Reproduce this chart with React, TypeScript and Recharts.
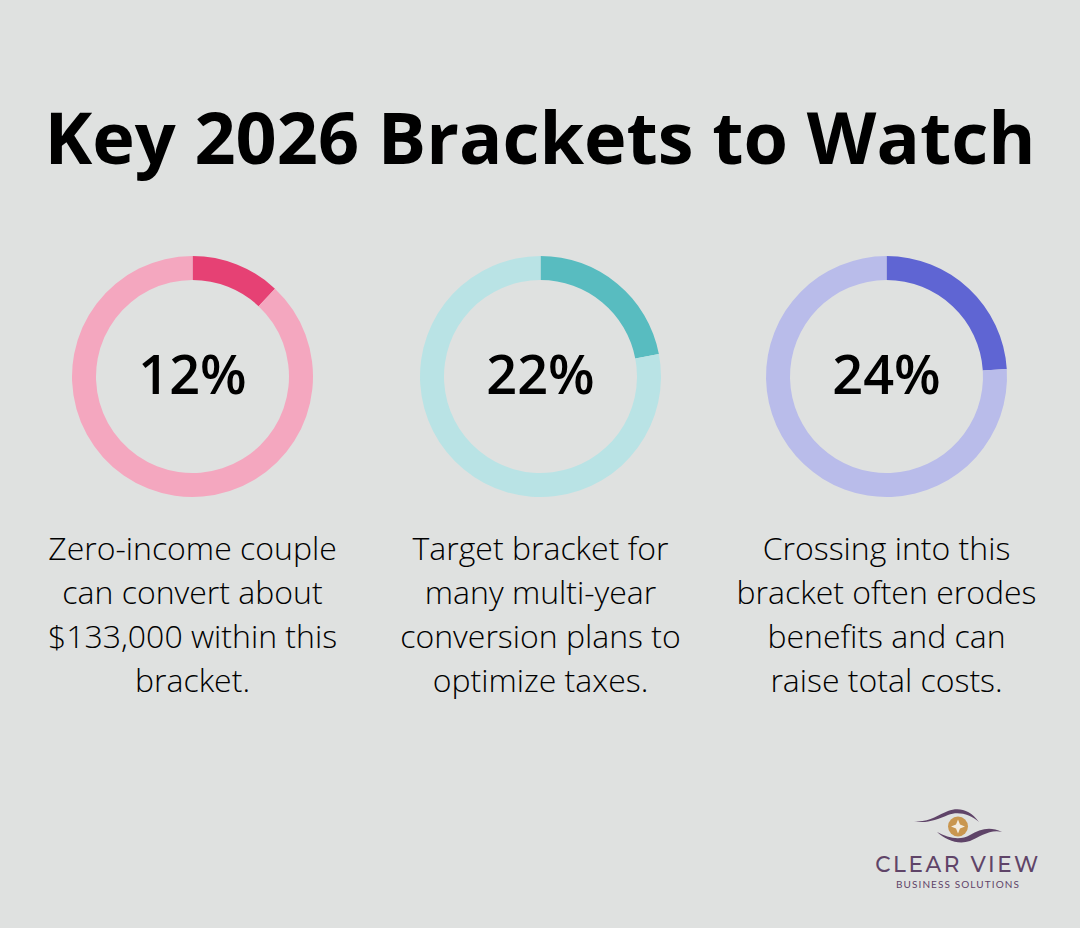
import React from 'react';
import { PieChart, Pie, Cell } from 'recharts';

const rates = [12, 22, 24];
const rateLabels = ['12%', '22%', '24%'];
const centers = [192.5, 540.5, 886.5];
const strongColors = ['#e64174', '#58bcc0', '#5f65d3'];
const paleColors = ['#f4a7bf', '#b9e3e5', '#b9bcea'];
const captions = [
  ['Zero-income couple', 'can convert about', '$133,000 within this', 'bracket.'],
  ['Target bracket for', 'many multi-year', 'conversion plans to', 'optimize taxes.'],
  ['Crossing into this', 'bracket often erodes', 'benefits and can', 'raise total costs.'],
];
const title = 'Key 2026 Brackets to Watch';
const captionLineYs = [548, 592, 636, 680];

const font = '"Open Sans", sans-serif';

const Logo: React.FC = () => (
  <svg width={1080} height={928} style={{ position: 'absolute', left: 0, top: 0, pointerEvents: 'none' }}>
    <path d="M914 821 C928 823 938 815 948 811 C958 807 970 809 979 822 C970 814 958 811 948 815 C936 820 925 824 914 821 Z" fill="#5f4468" />
    <path d="M937 832 C946 840 958 845 970 841 C980 837 990 829 1002 832 C990 826 980 829 970 835 C960 841 948 838 937 832 Z" fill="#5f4468" />
    <circle cx={958} cy={826.5} r={10} fill="#c9964f" />
    <path d="M958 819.5 L960 824.5 L965 826.5 L960 828.5 L958 833.5 L956 828.5 L951 826.5 L956 824.5 Z" fill="#f3ece0" />
    <text x={958} y={872} textAnchor="middle" fontFamily="Montserrat, Lato, sans-serif" fontSize={21.5} fontWeight={500} letterSpacing={2.6} fill="#5f4468">
      CLEAR VIEW
    </text>
    <text x={958} y={888} textAnchor="middle" fontFamily="Lato, sans-serif" fontSize={10} letterSpacing={1.1} fill="#5f4468">
      BUSINESS SOLUTIONS
    </text>
  </svg>
);

const App: React.FC = () => (
  <div style={{ position: 'absolute', left: 0, top: 0, width: 1080, height: 928, background: '#dfe1e0', overflow: 'hidden' }}>
    <div
      style={{
        position: 'absolute',
        left: 0,
        width: 1080,
        top: 87,
        textAlign: 'center',
        fontFamily: font,
        fontWeight: 700,
        fontSize: 72,
        lineHeight: '98px',
        color: '#000',
        whiteSpace: 'nowrap',
      }}
    >
      {title}
    </div>
    <div style={{ position: 'absolute', left: 0, top: 0 }}>
      <PieChart width={1080} height={928} margin={{ top: 0, right: 0, bottom: 0, left: 0 }}>
        {rates.map((rate, i) => (
          <Pie
            key={rate}
            data={[
              { name: rateLabels[i], value: rate },
              { name: 'rest', value: 100 - rate },
            ]}
            dataKey="value"
            cx={centers[i]}
            cy={376.5}
            innerRadius={96.5}
            outerRadius={120.5}
            startAngle={90}
            endAngle={-270}
            stroke="none"
            isAnimationActive={false}
          >
            <Cell fill={strongColors[i]} />
            <Cell fill={paleColors[i]} />
          </Pie>
        ))}
        {rateLabels.map((label, i) => (
          <text
            key={label}
            x={centers[i]}
            y={394}
            textAnchor="middle"
            fill="#000"
            style={{ fontFamily: font, fontSize: 54, fontWeight: 600 }}
          >
            {label}
          </text>
        ))}
      </PieChart>
    </div>
    {captions.map((lines, i) =>
      lines.map((line, j) => (
        <div
          key={line}
          style={{
            position: 'absolute',
            left: centers[i] - 170,
            width: 340,
            top: captionLineYs[j] - 22,
            textAlign: 'center',
            fontFamily: font,
            fontSize: 32,
            fontWeight: 300,
            lineHeight: '44px',
            color: '#000',
            whiteSpace: 'nowrap',
          }}
        >
          {line}
        </div>
      )),
    )}
    <Logo />
  </div>
);

export default App;
